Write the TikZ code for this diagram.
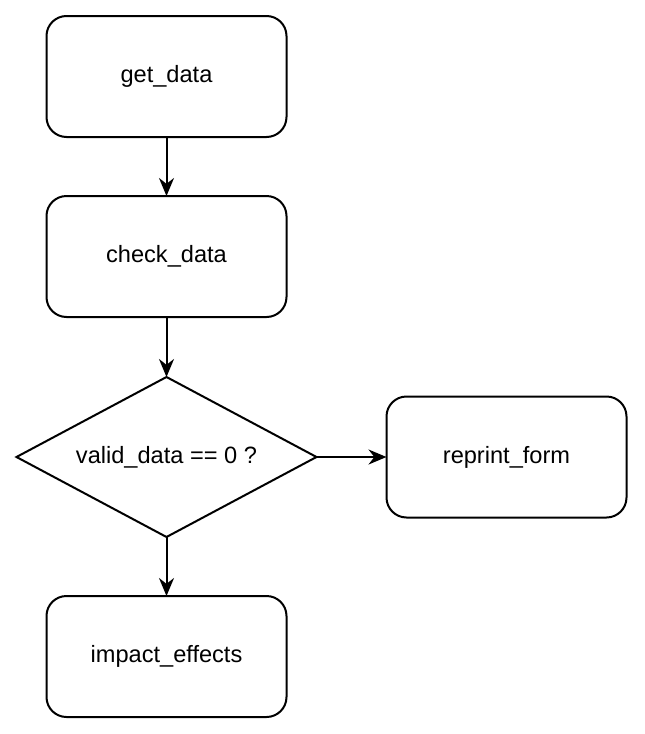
\documentclass[tikz,border=0pt]{standalone}
\usepackage{fontspec}
\setmainfont{Liberation Sans}
\usetikzlibrary{shapes.geometric,arrows.meta}
\begin{document}
\begin{tikzpicture}[x=0.5pt, y=-0.5pt, font=\fontsize{11.8pt}{14pt}\selectfont, line width=1pt,
	box/.style={draw, rounded corners=10pt, minimum width=120pt, minimum height=60.5pt, outer sep=0pt},
	decision/.style={draw, diamond, aspect=1.875, minimum width=150pt, minimum height=80pt, inner sep=0pt, outer sep=0pt},
	arr/.style={-{Stealth[length=9pt, width=7.5pt]}}]
	
	\useasboundingbox (0, 0) rectangle (644, 734);
	
	% Các bước
	\node[box] (get) at (166.5, 76.5) {get\_data};
	\node[box] (check) at (166.5, 256.5) {check\_data};
	\node[decision] (valid) at (166.5, 457) {valid\_data == 0 ?};
	\node[box] (reprint) at (506.5, 457) {reprint\_form};
	\node[box] (impact) at (166.5, 656.5) {impact\_effects};
	
	% Mũi tên
	\draw[arr] (get) -- (check);
	\draw[arr] (check) -- (valid);
	\draw[arr] (valid) -- (reprint);
	\draw[arr] (valid) -- (impact);
	
\end{tikzpicture}
\end{document}
